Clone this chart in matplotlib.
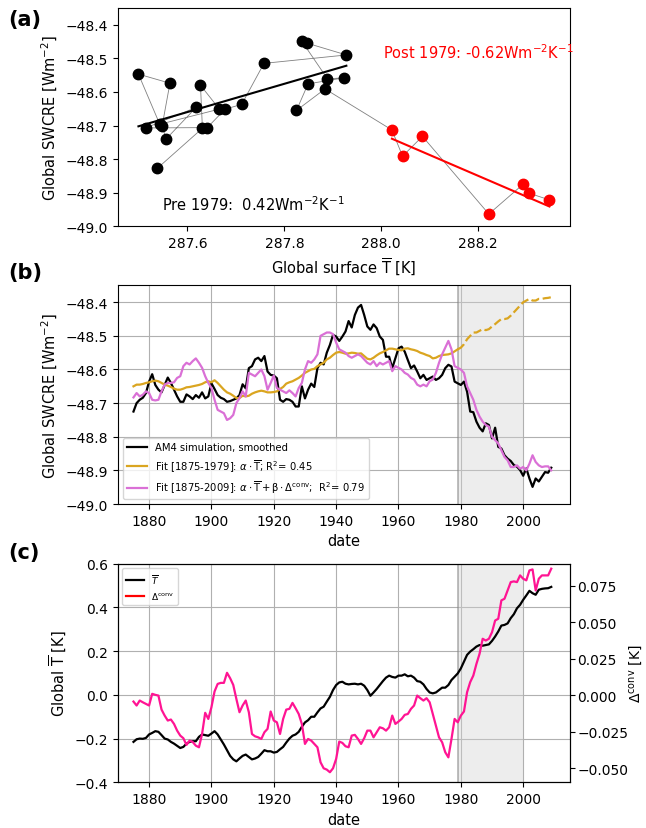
import numpy as np
import matplotlib.pyplot as plt
from matplotlib.lines import Line2D
from matplotlib.ticker import MultipleLocator

plt.rcParams['font.size'] = 10

# (a) 5-year means, in time order: surface temperature [K] vs SWCRE [W m-2]
pre_T = [287.538, 287.631, 287.627, 287.666, 287.543, 287.499, 287.564, 287.548,
         287.556, 287.618, 287.514, 287.641, 287.678, 287.712, 287.758, 287.928,
         287.847, 287.836, 287.889, 287.923, 287.849, 287.825, 287.884]
pre_swcre = [-48.827, -48.708, -48.580, -48.651, -48.696, -48.547, -48.574, -48.700,
             -48.740, -48.646, -48.707, -48.706, -48.651, -48.637, -48.515, -48.490,
             -48.455, -48.449, -48.561, -48.558, -48.576, -48.655, -48.591]
post_T = [288.022, 288.044, 288.085, 288.222, 288.293, 288.305, 288.347]
post_swcre = [-48.713, -48.791, -48.732, -48.963, -48.874, -48.901, -48.921]
pre_slope = 0.42
post_slope = -0.62

# (b) and (c) annual series 1875-2009
years = np.arange(1875, 2010)

am4_swcre = [
    -48.725, -48.700, -48.690, -48.684, -48.670, -48.636, -48.614, -48.646, -48.660, -48.668,
    -48.646, -48.624, -48.640, -48.660, -48.680, -48.696, -48.696, -48.674, -48.680, -48.688,
    -48.676, -48.684, -48.668, -48.686, -48.680, -48.641, -48.658, -48.676, -48.684, -48.688,
    -48.696, -48.694, -48.690, -48.686, -48.676, -48.644, -48.656, -48.596, -48.590, -48.570,
    -48.565, -48.575, -48.560, -48.606, -48.616, -48.618, -48.626, -48.690, -48.696, -48.688,
    -48.690, -48.696, -48.710, -48.710, -48.650, -48.686, -48.660, -48.642, -48.652, -48.596,
    -48.580, -48.585, -48.550, -48.527, -48.497, -48.502, -48.515, -48.502, -48.487, -48.456,
    -48.475, -48.438, -48.416, -48.408, -48.438, -48.472, -48.482, -48.466, -48.477, -48.502,
    -48.512, -48.562, -48.562, -48.596, -48.567, -48.537, -48.532, -48.547, -48.572, -48.596,
    -48.588, -48.606, -48.626, -48.616, -48.631, -48.626, -48.621, -48.631, -48.626, -48.616,
    -48.596, -48.586, -48.591, -48.636, -48.641, -48.646, -48.636, -48.666, -48.725, -48.727,
    -48.755, -48.773, -48.784, -48.760, -48.765, -48.805, -48.773, -48.830, -48.835, -48.855,
    -48.865, -48.872, -48.884, -48.889, -48.899, -48.916, -48.894, -48.924, -48.949, -48.924,
    -48.933, -48.919, -48.905, -48.907, -48.892]

fit_T = [
    -48.650, -48.645, -48.645, -48.643, -48.640, -48.638, -48.635, -48.633, -48.635, -48.640,
    -48.645, -48.648, -48.652, -48.657, -48.660, -48.660, -48.657, -48.653, -48.652, -48.650,
    -48.648, -48.646, -48.643, -48.638, -48.635, -48.638, -48.632, -48.640, -48.650, -48.660,
    -48.668, -48.672, -48.678, -48.685, -48.685, -48.678, -48.680, -48.678, -48.672, -48.668,
    -48.665, -48.663, -48.665, -48.668, -48.668, -48.667, -48.665, -48.658, -48.652, -48.642,
    -48.638, -48.635, -48.630, -48.625, -48.618, -48.610, -48.605, -48.600, -48.598, -48.590,
    -48.585, -48.580, -48.570, -48.565, -48.557, -48.550, -48.548, -48.550, -48.553, -48.552,
    -48.550, -48.551, -48.553, -48.552, -48.560, -48.568, -48.570, -48.565, -48.558, -48.552,
    -48.548, -48.543, -48.538, -48.538, -48.540, -48.542, -48.543, -48.538, -48.537, -48.540,
    -48.542, -48.545, -48.550, -48.553, -48.557, -48.560, -48.567, -48.565, -48.560, -48.557,
    -48.556, -48.555, -48.552, -48.546, -48.540, -48.535, -48.525, -48.510, -48.500, -48.490,
    -48.490, -48.485, -48.480, -48.483, -48.480, -48.472, -48.465, -48.457, -48.450, -48.450,
    -48.448, -48.440, -48.430, -48.420, -48.410, -48.400, -48.395, -48.390, -48.395, -48.395,
    -48.390, -48.390, -48.388, -48.387, -48.385]

fit_T_conv = [
    -48.683, -48.670, -48.680, -48.675, -48.665, -48.670, -48.690, -48.692, -48.690, -48.665,
    -48.645, -48.640, -48.640, -48.638, -48.625, -48.620, -48.590, -48.580, -48.585, -48.575,
    -48.567, -48.580, -48.595, -48.620, -48.640, -48.655, -48.690, -48.720, -48.725, -48.730,
    -48.750, -48.745, -48.735, -48.700, -48.685, -48.665, -48.680, -48.610, -48.615, -48.620,
    -48.610, -48.600, -48.620, -48.660, -48.640, -48.618, -48.655, -48.660, -48.665, -48.670,
    -48.662, -48.670, -48.680, -48.655, -48.640, -48.600, -48.575, -48.580, -48.570, -48.555,
    -48.500, -48.495, -48.490, -48.490, -48.495, -48.520, -48.540, -48.545, -48.550, -48.560,
    -48.565, -48.560, -48.555, -48.560, -48.570, -48.580, -48.585, -48.575, -48.590, -48.580,
    -48.585, -48.580, -48.575, -48.605, -48.590, -48.595, -48.600, -48.610, -48.615, -48.625,
    -48.630, -48.645, -48.650, -48.645, -48.650, -48.635, -48.630, -48.610, -48.580, -48.555,
    -48.535, -48.515, -48.540, -48.590, -48.595, -48.600, -48.610, -48.650, -48.670, -48.690,
    -48.720, -48.740, -48.755, -48.765, -48.770, -48.800, -48.810, -48.820, -48.840, -48.860,
    -48.870, -48.890, -48.890, -48.885, -48.895, -48.890, -48.900, -48.880, -48.855, -48.875,
    -48.885, -48.890, -48.888, -48.888, -48.900]

t_anom = [
    -0.215, -0.203, -0.200, -0.201, -0.197, -0.181, -0.174, -0.166, -0.169, -0.184,
    -0.200, -0.204, -0.215, -0.223, -0.233, -0.243, -0.238, -0.223, -0.215, -0.212,
    -0.212, -0.192, -0.181, -0.184, -0.187, -0.177, -0.166, -0.181, -0.204, -0.227,
    -0.253, -0.279, -0.295, -0.304, -0.291, -0.279, -0.273, -0.284, -0.295, -0.291,
    -0.284, -0.269, -0.253, -0.258, -0.258, -0.264, -0.261, -0.249, -0.238, -0.218,
    -0.200, -0.187, -0.181, -0.169, -0.146, -0.126, -0.116, -0.100, -0.100, -0.080,
    -0.062, -0.054, -0.031, -0.009, 0.022, 0.045, 0.057, 0.060, 0.051, 0.048,
    0.050, 0.051, 0.048, 0.051, 0.042, 0.022, -0.004, 0.011, 0.027, 0.045,
    0.063, 0.079, 0.088, 0.082, 0.079, 0.088, 0.088, 0.094, 0.085, 0.088,
    0.079, 0.063, 0.060, 0.048, 0.027, 0.011, 0.007, 0.011, 0.022, 0.033,
    0.033, 0.045, 0.068, 0.083, 0.098, 0.121, 0.152, 0.183, 0.198, 0.209,
    0.221, 0.228, 0.225, 0.228, 0.231, 0.247, 0.267, 0.290, 0.317, 0.320,
    0.327, 0.351, 0.369, 0.396, 0.412, 0.435, 0.455, 0.476, 0.465, 0.458,
    0.481, 0.485, 0.487, 0.488, 0.494]

delta_conv = [
    -0.0043, -0.0070, -0.0036, -0.0048, -0.0059, -0.0070, 0.0010, 0.0003, -0.0002, -0.0098,
    -0.0139, -0.0173, -0.0166, -0.0196, -0.0242, -0.0276, -0.0294, -0.0340, -0.0310, -0.0320,
    -0.0345, -0.0356, -0.0265, -0.0120, -0.0162, -0.0082, 0.0026, 0.0078, 0.0085, 0.0085,
    0.0154, 0.0117, 0.0071, -0.0025, -0.0116, -0.0070, -0.0036, -0.0116, -0.0265, -0.0281,
    -0.0288, -0.0299, -0.0253, -0.0230, -0.0111, -0.0173, -0.0185, -0.0265, -0.0162, -0.0098,
    -0.0093, -0.0052, -0.0089, -0.0128, -0.0196, -0.0333, -0.0299, -0.0310, -0.0333, -0.0356,
    -0.0459, -0.0500, -0.0509, -0.0527, -0.0500, -0.0436, -0.0317, -0.0326, -0.0349, -0.0356,
    -0.0276, -0.0271, -0.0299, -0.0333, -0.0294, -0.0242, -0.0242, -0.0288, -0.0253, -0.0219,
    -0.0226, -0.0242, -0.0219, -0.0139, -0.0196, -0.0180, -0.0162, -0.0134, -0.0128, -0.0093,
    -0.0070, -0.0002, -0.0020, -0.0036, -0.0020, -0.0048, -0.0128, -0.0207, -0.0288, -0.0322,
    -0.0390, -0.0425, -0.0299, -0.0162, -0.0185, -0.0139, -0.0111, 0.0021, 0.0090, 0.0135,
    0.0215, 0.0284, 0.0387, 0.0375, 0.0387, 0.0432, 0.0512, 0.0524, 0.0650, 0.0661,
    0.0718, 0.0775, 0.0780, 0.0775, 0.0821, 0.0798, 0.0787, 0.0855, 0.0862, 0.0718,
    0.0798, 0.0821, 0.0821, 0.0821, 0.0867]

fig = plt.figure(figsize=(6.46, 8.29), dpi=100)
left, width, height = 0.1825, 0.6998, 0.2637

# ---- (a) scatter with fits ----
ax_a = fig.add_axes([left, 0.7256, width, height])
all_T = pre_T + post_T
all_swcre = pre_swcre + post_swcre
ax_a.plot(all_T, all_swcre, color='gray', lw=0.6, zorder=1)
ax_a.plot(pre_T, pre_swcre, 'o', color='black', ms=7.5, zorder=3)
ax_a.plot(post_T, post_swcre, 'o', color='red', ms=7.5, zorder=3)

xs = np.array([min(pre_T), max(pre_T)])
b0 = np.mean(pre_swcre) - pre_slope * np.mean(pre_T)
ax_a.plot(xs, b0 + pre_slope * xs, color='black', lw=1.5, zorder=2)
xs = np.array([min(post_T), max(post_T)])
b1 = np.mean(post_swcre) - post_slope * np.mean(post_T)
ax_a.plot(xs, b1 + post_slope * xs, color='red', lw=1.5, zorder=2)

ax_a.text(287.548, -48.933, 'Pre 1979:  %.2fWm$^{-2}$K$^{-1}$' % pre_slope,
          va='center', fontsize=10.5)
ax_a.text(288.003, -48.481, 'Post 1979: %.2fWm$^{-2}$K$^{-1}$' % post_slope,
          va='center', color='red', fontsize=10.5)
ax_a.set_ylim(-49.0, -48.35)
ax_a.set_xlabel(r'Global surface $\overline{\rm T}$ [K]', fontsize=10.5)
ax_a.set_ylabel('Global SWCRE [Wm$^{-2}$]', fontsize=10.5)

# ---- (b) SWCRE time series and fits ----
ax_b = fig.add_axes([left, 0.3908, width, height])
ax_b.axvspan(1979, 2000, color='lightgray', alpha=0.4, lw=0)
ax_b.axvline(1979, color='gray', lw=1.2, alpha=0.6)
ax_b.plot(years, am4_swcre, color='black', lw=1.6, label='AM4 simulation, smoothed')
pre = years <= 1979
post = years >= 1979
ax_b.plot(years[pre], np.array(fit_T)[pre], color='goldenrod', lw=1.6,
          label=r'Fit [1875-1979]: $\alpha\cdot\overline{\rm T}$; R$^2$= 0.45')
ax_b.plot(years[post], np.array(fit_T)[post], color='goldenrod', lw=1.6, ls='--')
ax_b.plot(years, fit_T_conv, color='orchid', lw=1.6,
          label=r'Fit [1875-2009]: $\alpha\cdot\overline{\rm T}+\beta\cdot\Delta^{\rm conv}$;  R$^2$= 0.79')
ax_b.set_xlim(1870, 2015)
ax_b.set_ylim(-49.0, -48.35)
ax_b.grid(True)
ax_b.set_axisbelow(True)
ax_b.legend(loc='lower left', fontsize=7.2)
ax_b.set_xlabel('date', fontsize=10.5)
ax_b.set_ylabel('Global SWCRE [Wm$^{-2}$]', fontsize=10.5)

# ---- (c) temperature and convective index ----
ax_c = fig.add_axes([left, 0.0551, width, height])
ax_c.axvspan(1979, 2000, color='lightgray', alpha=0.4, lw=0)
ax_c.axvline(1979, color='gray', lw=1.2, alpha=0.6)
ax_c.plot(years, t_anom, color='black', lw=1.6)
ax_c.set_xlim(1870, 2015)
ax_c.set_ylim(-0.4, 0.6)
ax_c.grid(True)
ax_c.set_axisbelow(True)
ax_c.set_xlabel('date', fontsize=10.5)
ax_c.set_ylabel(r'Global $\overline{\rm T}$ [K]', fontsize=10.5)

ax_c2 = ax_c.twinx()
ax_c2.plot(years, delta_conv, color='deeppink', lw=1.6)
ax_c2.set_ylim(-0.0596, 0.0901)
ax_c2.yaxis.set_major_locator(MultipleLocator(0.025))
ax_c2.tick_params(axis='y', pad=2)
ax_c2.set_ylabel(r'$\Delta^{\rm conv}$ [K]', fontsize=10)
ax_c2.yaxis.set_label_coords(1.128, 0.5)

handles = [Line2D([], [], color='black', lw=1.6), Line2D([], [], color='red', lw=1.6)]
ax_c.legend(handles, [r'$\overline{T}$', r'$\Delta^{\rm conv}$'], loc='upper left',
            fontsize=6.5)

for lab, y in [('(a)', 0.988), ('(b)', 0.683), ('(c)', 0.345)]:
    fig.text(0.012, y, lab, fontsize=15, fontweight='bold', va='top')

fig.savefig('out.png', dpi=100)
